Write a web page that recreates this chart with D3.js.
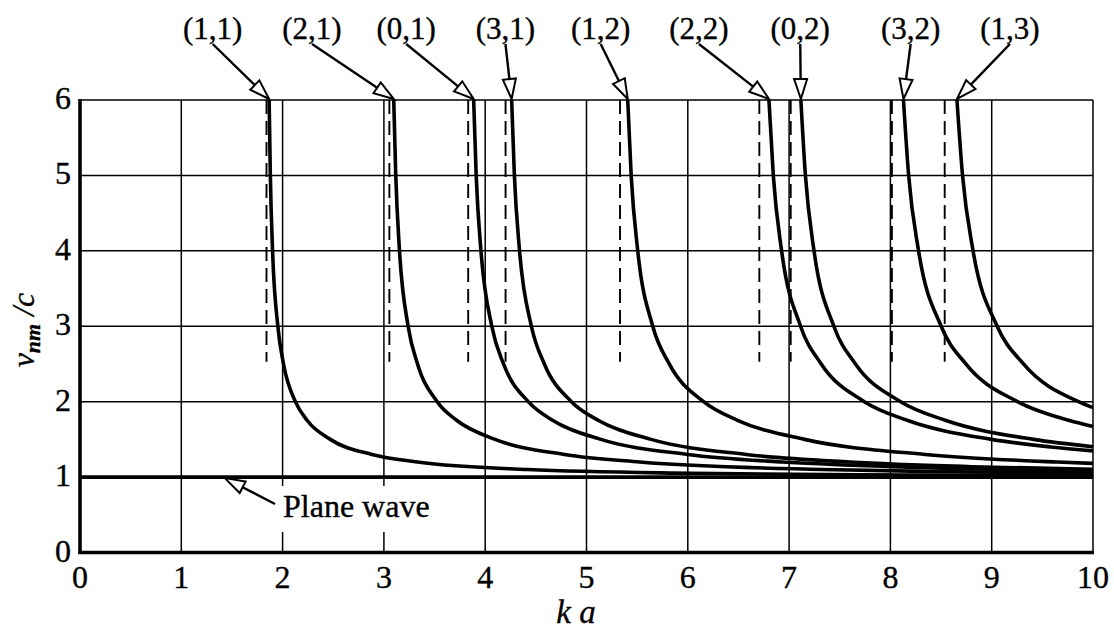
<!DOCTYPE html>
<html>
<head>
<meta charset="utf-8">
<script src="https://cdn.jsdelivr.net/npm/d3@7"></script>
<style>
  body { margin: 0; background: #fff; }
  text { font-family: "Liberation Serif", "Times New Roman", serif; fill: #000; stroke: #000; stroke-width: 0.35; }
</style>
</head>
<body>
<div id="chart"></div>
<script>
// mode labels and cut-off values (ka)
var modes = ["(1,1)", "(2,1)", "(0,1)", "(3,1)", "(1,2)", "(2,2)", "(0,2)", "(3,2)", "(1,3)"];
var cutoffs = [1.841, 3.054, 3.832, 4.201, 5.331, 6.706, 7.016, 8.015, 8.536];

// phase speed curves v_nm/c against ka, [ka, v/c]
var curve11 = [[1.867, 6], [1.879, 5], [1.901, 4], [1.953, 3], [2.009, 2.5], [2.126, 2], [2.243, 1.75], [2.470, 1.5], [2.881, 1.3], [3.331, 1.2], [4.419, 1.1], [6.038, 1.05], [7.684, 1.03], [10, 1.017]];
var curve21 = [[3.097, 6], [3.117, 5], [3.154, 4], [3.239, 3], [3.332, 2.5], [3.526, 2], [3.721, 1.75], [4.097, 1.5], [4.780, 1.3], [5.525, 1.2], [7.331, 1.1], [8.5, 1.072], [10, 1.050]];
var curve01 = [[3.886, 6], [3.911, 5], [3.958, 4], [4.065, 3], [4.181, 2.5], [4.425, 2], [4.669, 1.75], [5.141, 1.5], [5.997, 1.3], [6.932, 1.2], [8, 1.139], [9.198, 1.1], [10, 1.083]];
var curve31 = [[4.261, 6], [4.288, 5], [4.339, 4], [4.456, 3], [4.584, 2.5], [4.851, 2], [5.119, 1.75], [5.636, 1.5], [6.575, 1.3], [7.600, 1.2], [8.8, 1.138], [10, 1.102]];
var curve12 = [[5.407, 6], [5.441, 5], [5.506, 4], [5.654, 3], [5.817, 2.5], [6.156, 2], [6.496, 1.75], [7.152, 1.5], [8.343, 1.3], [9.644, 1.2], [10, 1.182]];
var curve22 = [[6.801, 6], [6.844, 5], [6.926, 4], [7.113, 3], [7.317, 2.5], [7.743, 2], [8.172, 1.75], [8.997, 1.5], [9.582, 1.4], [10, 1.348]];
var curve02 = [[7.116, 6], [7.161, 5], [7.246, 4], [7.442, 3], [7.655, 2.5], [8.101, 2], [8.549, 1.75], [9.413, 1.5], [10, 1.403]];
var curve32 = [[8.129, 6], [8.180, 5], [8.278, 4], [8.501, 3], [8.745, 2.5], [9.255, 2], [9.767, 1.75], [10, 1.672]];
var curve13 = [[8.657, 6], [8.712, 5], [8.816, 4], [9.054, 3], [9.314, 2.5], [9.857, 2], [10, 1.920]];
var planeWave = [[0, 1], [10, 1]];

var xTicks = [0, 1, 2, 3, 4, 5, 6, 7, 8, 9, 10];
var yTicks = [0, 1, 2, 3, 4, 5, 6];

var curves = [curve11, curve21, curve01, curve31, curve12, curve22, curve02, curve32, curve13];

// where the mode labels sit along the top (in ka units)
var labelKa = [1.31, 2.29, 3.22, 4.20, 5.14, 6.11, 7.11, 8.20, 9.18];

var W = 1114, H = 629;
var x = d3.scaleLinear().domain([0, 10]).range([80, 1093]);
var y = d3.scaleLinear().domain([0, 6]).range([552.5, 100]);

var svg = d3.select("#chart").append("svg")
  .attr("width", W)
  .attr("height", H);

svg.append("defs").append("clipPath").attr("id", "plot")
  .append("rect")
  .attr("x", x(0)).attr("y", y(6) - 2)
  .attr("width", x(10) - x(0) + 2).attr("height", y(0) - y(6) + 2);

// grid
var grid = svg.append("g").attr("stroke", "#000").attr("stroke-width", 1.5);
grid.selectAll("line.v")
  .data(xTicks.slice(1))
  .enter().append("line")
  .attr("x1", function(d) { return x(d); })
  .attr("x2", function(d) { return x(d); })
  .attr("y1", y(0)).attr("y2", y(6));
grid.selectAll("line.h")
  .data(yTicks.slice(1))
  .enter().append("line")
  .attr("x1", x(0)).attr("x2", x(10))
  .attr("y1", function(d) { return y(d); })
  .attr("y2", function(d) { return y(d); });

// label box hides the grid under "Plane wave"
svg.append("rect")
  .attr("x", 278).attr("y", 486)
  .attr("width", 160).attr("height", 46)
  .attr("fill", "#fff");
svg.append("text")
  .attr("x", 283).attr("y", 517)
  .attr("font-size", 32)
  .text("Plane wave");

// cut-off markers
svg.append("g")
  .selectAll("line")
  .data(cutoffs)
  .enter().append("line")
  .attr("x1", function(d) { return x(d); })
  .attr("x2", function(d) { return x(d); })
  .attr("y1", y(6)).attr("y2", y(2.53))
  .attr("stroke", "#000")
  .attr("stroke-width", 1.9)
  .attr("stroke-dasharray", "14,7");

var line = d3.line()
  .x(function(d) { return x(d[0]); })
  .y(function(d) { return y(d[1]); })
  .curve(d3.curveMonotoneX);

svg.append("g")
  .attr("clip-path", "url(#plot)")
  .selectAll("path")
  .data(curves.concat([planeWave]))
  .enter().append("path")
  .attr("d", line)
  .attr("fill", "none")
  .attr("stroke", "#000")
  .attr("stroke-width", 3.6)
  .attr("stroke-linejoin", "round");

// thick left and bottom axes
svg.append("line")
  .attr("x1", x(0)).attr("x2", x(0))
  .attr("y1", y(6) - 1).attr("y2", y(0) + 1.5)
  .attr("stroke", "#000").attr("stroke-width", 3.6);
svg.append("line")
  .attr("x1", x(0) - 1.5).attr("x2", x(10) + 1)
  .attr("y1", y(0)).attr("y2", y(0))
  .attr("stroke", "#000").attr("stroke-width", 3.6);

// tick labels
svg.append("g")
  .selectAll("text")
  .data(xTicks)
  .enter().append("text")
  .attr("x", function(d) { return x(d); })
  .attr("y", 588)
  .attr("text-anchor", "middle")
  .attr("font-size", 32)
  .text(function(d) { return d; });
svg.append("g")
  .selectAll("text")
  .data(yTicks)
  .enter().append("text")
  .attr("x", 71)
  .attr("y", function(d) { return y(d) + 9; })
  .attr("text-anchor", "end")
  .attr("font-size", 32)
  .text(function(d) { return d; });

// axis titles
svg.append("text")
  .attr("x", 576).attr("y", 623)
  .attr("text-anchor", "middle")
  .attr("font-size", 33)
  .attr("font-style", "italic")
  .text("k a");

var yl = svg.append("text")
  .attr("transform", "translate(34,330) rotate(-90)")
  .attr("text-anchor", "middle")
  .attr("font-size", 32)
  .attr("font-style", "italic");
yl.append("tspan").text("v");
yl.append("tspan").attr("font-size", 22).attr("font-weight", "bold").attr("dy", 6).text("nm");
yl.append("tspan").attr("dy", -6).text(" /c");

// hollow-headed arrows
function arrow(x1, y1, x2, y2) {
  var dx = x2 - x1, dy = y2 - y1;
  var len = Math.sqrt(dx * dx + dy * dy);
  var ux = dx / len, uy = dy / len;
  var hl = 20, hw = 6.5;
  var bx = x2 - ux * hl, by = y2 - uy * hl;
  svg.append("line")
    .attr("x1", x1).attr("y1", y1).attr("x2", bx).attr("y2", by)
    .attr("stroke", "#000").attr("stroke-width", 2.4);
  svg.append("polygon")
    .attr("points", [[x2, y2], [bx - uy * hw, by + ux * hw], [bx + uy * hw, by - ux * hw]].join(" "))
    .attr("fill", "#fff")
    .attr("stroke", "#000")
    .attr("stroke-width", 2)
    .attr("stroke-linejoin", "miter");
}

modes.forEach(function(m, i) {
  var lx = x(labelKa[i]);
  svg.append("text")
    .attr("x", lx).attr("y", 39)
    .attr("text-anchor", "middle")
    .attr("font-size", 31)
    .text(m);
  arrow(lx, 44, x(curves[i][0][0]), y(6) - 1);
});

arrow(275, 504, x(1.43), y(1) + 1);
</script>
</body>
</html>
